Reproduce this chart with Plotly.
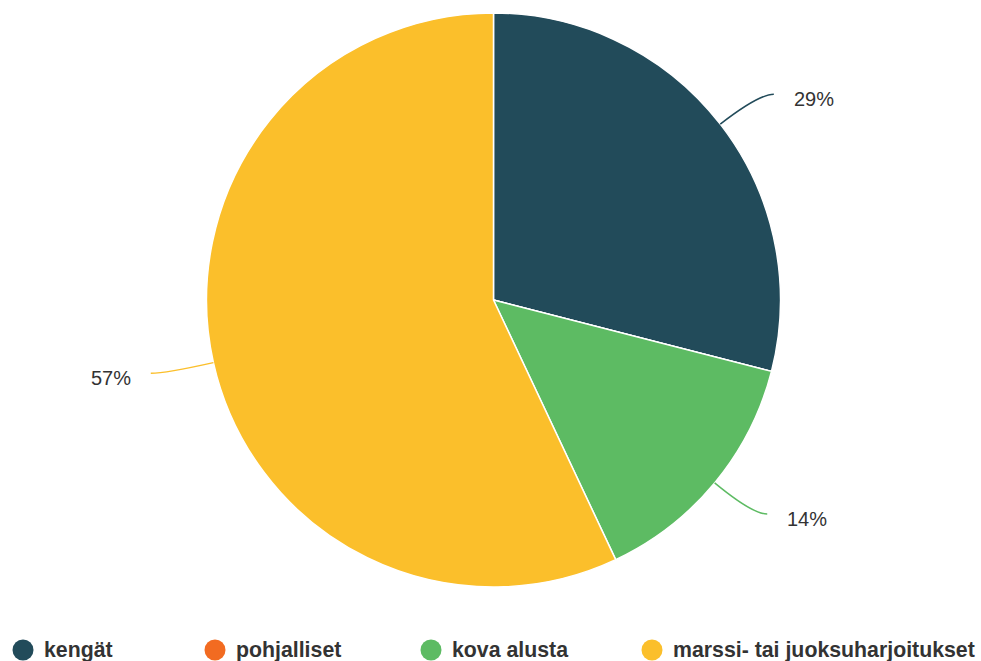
import math
import plotly.graph_objects as go

# ---- data ----
categories = ["kengät", "pohjalliset", "kova alusta", "marssi- tai juoksuharjoitukset"]
values = [29, 0, 14, 57]
colors = ["#224B5A", "#F26B21", "#5DBB63", "#FBBF2B"]

# ---- layout constants (pixels) ----
W, H = 981, 661
CX, CY, R = 493.5, 300, 287
LEGEND_X = [23, 215, 431, 652]
LEGEND_Y = 650
FONT = "Liberation Sans, Arial, sans-serif"


def px(x):
    return x / W


def py(y):
    return 1 - y / H


fig = go.Figure()
fig.add_trace(go.Pie(
    labels=categories,
    values=values,
    marker=dict(colors=colors, line=dict(color="white", width=1.5)),
    sort=False,
    direction="clockwise",
    rotation=0,
    textinfo="none",
    hoverinfo="label+percent",
    showlegend=False,
    domain=dict(x=[px(CX - R), px(CX + R)], y=[py(CY + R), py(CY - R)]),
))

shapes = []
annotations = []
total = sum(values)
cum = 0
for cat, v, col in zip(categories, values, colors):
    if v > 0:
        th = (cum + v / 2) / total * 2 * math.pi
        s, c = math.sin(th), math.cos(th)
        x0, y0 = CX + R * s, CY - R * c
        xc, yc = CX + 1.17 * R * s, CY - 1.17 * R * c
        sign = 1 if s >= 0 else -1
        xe, ye = xc + sign * 15, yc
        shapes.append(dict(
            type="path", xref="paper", yref="paper",
            path=f"M {px(x0)} {py(y0)} Q {px(xc)} {py(yc)} {px(xe)} {py(ye)}",
            line=dict(color=col, width=1.5),
        ))
        pct = round(v / total * 100)
        annotations.append(dict(
            x=px(xe + sign * 18), y=py(ye + 5), xref="paper", yref="paper",
            text=f"{pct}%", showarrow=False,
            xanchor="left" if sign > 0 else "right", yanchor="middle",
            font=dict(family=FONT, size=20, color="#333333"),
        ))
    cum += v

# legend (circle markers + bold labels)
for cat, col, lx in zip(categories, colors, LEGEND_X):
    rr = 10.5
    shapes.append(dict(
        type="circle", xref="paper", yref="paper",
        x0=px(lx - rr), x1=px(lx + rr), y0=py(LEGEND_Y + rr), y1=py(LEGEND_Y - rr),
        fillcolor=col, line=dict(width=0),
    ))
    annotations.append(dict(
        x=px(lx + 19), y=py(LEGEND_Y), xref="paper", yref="paper",
        text=f"<b>{cat}</b>", showarrow=False,
        xanchor="left", yanchor="middle",
        font=dict(family=FONT, size=21.3, color="#333333"),
    ))

fig.update_layout(
    width=W, height=H,
    margin=dict(l=0, r=0, t=0, b=0),
    paper_bgcolor="white",
    plot_bgcolor="white",
    shapes=shapes,
    annotations=annotations,
    showlegend=False,
)

fig.write_html("out.html")
